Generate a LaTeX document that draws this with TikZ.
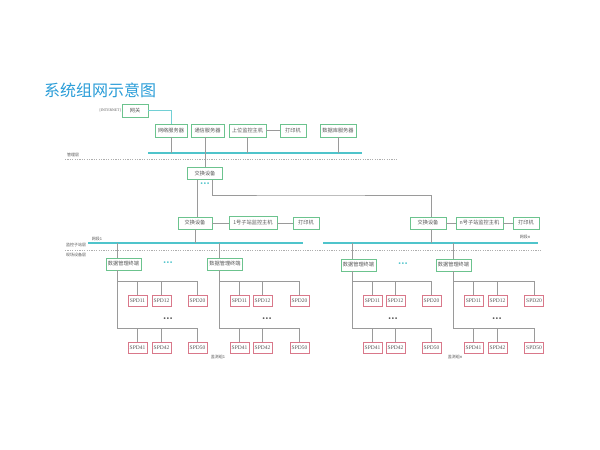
\documentclass[tikz,border=0pt]{standalone}
\usepackage{fontspec}
\newfontfamily\cjk{Noto Sans CJK SC}
\newfontfamily\latinserif{Liberation Serif}
\newfontfamily\dejavu{DejaVu Sans}
\definecolor{boxgreen}{HTML}{6CC38E}
\definecolor{spdred}{HTML}{D9788A}
\definecolor{lgray}{HTML}{9A9A9A}
\definecolor{busteal}{HTML}{4FC4CB}
\definecolor{titleblue}{HTML}{2A9DD8}
\definecolor{txtgray}{HTML}{555555}
\tikzset{
 gbox/.style={draw=boxgreen, line width=0.8pt, fill=white, inner sep=0pt, font=\cjk\fontsize{5.2}{6}\selectfont, text=txtgray},
 sbox/.style={draw=spdred, line width=0.7pt, fill=white, inner sep=0pt, minimum width=19pt, minimum height=11pt, font=\latinserif\fontsize{5.5}{6}\selectfont, text=txtgray},
 conn/.style={draw=lgray, line width=0.6pt},
 bus/.style={draw=busteal, line width=1.1pt},
 layerline/.style={draw=lgray!80, line width=0.5pt, dash pattern=on 1.2pt off 1.2pt},
 small/.style={font=\cjk\fontsize{4}{4.5}\selectfont, text=txtgray, inner sep=0pt},
 tdots/.style={font=\dejavu\bfseries\fontsize{5}{5}\selectfont, text=busteal, inner sep=0pt},
 gdots/.style={font=\dejavu\bfseries\fontsize{5}{5}\selectfont, text=txtgray, inner sep=0pt},
}
\begin{document}
\begin{tikzpicture}[x=1pt,y=-1pt]
\useasboundingbox[fill=white] (0,0) rectangle (600,450);
% title
\node[anchor=west, font=\cjk\fontsize{16}{17}\selectfont, text=titleblue, inner sep=0pt] (title) at (44,90) {系统组网示意图};
% top level
\node[small, font=\latinserif\fontsize{3.8}{4}\selectfont, anchor=east] (inet) at (121,110.5) {[INTERNET]};
\node[gbox, minimum width=26pt, minimum height=13pt] (wg) at (135,110.5) {网关};
\node[gbox, minimum width=32pt, minimum height=13pt] (wlfwq) at (171,130.5) {网络服务器};
\node[gbox, minimum width=33pt, minimum height=13pt] (txfwq) at (207.5,130.5) {通信服务器};
\node[gbox, minimum width=37pt, minimum height=13pt] (swjk) at (247.5,130.5) {上位监控主机};
\node[gbox, minimum width=26pt, minimum height=13pt] (dy1) at (293,130.5) {打印机};
\node[gbox, minimum width=36pt, minimum height=13pt] (sjk) at (338,130.5) {数据库服务器};
\draw[conn, draw=busteal!80] (wg.east) -| (wlfwq.north);
\draw[conn] (swjk.east) -- (dy1.west);
\coordinate (b0l) at (148,153);
\coordinate (b0r) at (362,153);
\draw[bus] (b0l) -- (b0r);
\draw[conn] (wlfwq.south) -- (wlfwq.south |- b0l);
\draw[conn] (swjk.south) -- (swjk.south |- b0l);
\draw[conn] (sjk.south) -- (sjk.south |- b0l);
\coordinate (l0l) at (65,159);
\coordinate (l0r) at (398,159);
\draw[layerline] (l0l) -- (l0r);
\node[small] (glc) at (73,154.5) {管理层};
% exchange
\node[gbox, minimum width=35pt, minimum height=12pt] (jh0) at (205,173.5) {交换设备};
\draw[conn] (jh0.north) -- (jh0.north |- txfwq.south);
\node[tdots] (d0) at (205,184) {•••};
\node[gbox, minimum width=34pt, minimum height=12pt] (jh1) at (195,223) {交换设备};
\node[gbox, minimum width=48pt, minimum height=13pt] (zz1) at (253,223) {1号子站监控主机};
\node[gbox, minimum width=26pt, minimum height=12pt] (dy2) at (306,223) {打印机};
\node[gbox, minimum width=36pt, minimum height=12pt] (jhn) at (428,223) {交换设备};
\node[gbox, minimum width=47pt, minimum height=12pt] (zzn) at (479.5,223) {n号子站监控主机};
\node[gbox, minimum width=26pt, minimum height=12pt] (dy3) at (526,223) {打印机};
\coordinate (turn) at (300,195);
\draw[conn] ([xshift=-8pt]jh0.south) -- ([xshift=-8pt]jh0.south |- jh1.north);
\draw[conn] ([xshift=7pt]jh0.south) |- (turn) -| ([xshift=3pt]jhn.north);
\draw[conn] (jh1.east) -- (zz1.west);
\draw[conn, line width=1pt] (zz1.east) -- (dy2.west);
\draw[conn] (jhn.east) -- (zzn.west);
\draw[conn, line width=1pt] (zzn.east) -- (dy3.west);
% buses level 2
\coordinate (b1l) at (88,243);
\coordinate (b1r) at (303,243);
\coordinate (bnl) at (323,243);
\coordinate (bnr) at (538,243);
\draw[bus] (b1l) -- (b1r);
\draw[bus] (bnl) -- (bnr);
\draw[conn] (jh1.south) -- (jh1.south |- b1l);
\draw[conn] ([xshift=3pt]jhn.south) -- ([xshift=3pt]jhn.south |- bnl);
\node[small] (wd1) at (97,238.5) {网段1};
\node[small] (wdn) at (525,237) {网段n};
\coordinate (l1l) at (65,250);
\coordinate (l1r) at (541,250);
\draw[layerline] (l1l) -- (l1r);
\node[small] (jkz) at (76,244.5) {监控子站层};
\node[small] (xcs) at (76,254.5) {现场设备层};
\node[tdots] (d1) at (168,263.5) {•••};
\node[tdots] (d2) at (403,264.5) {•••};
% groups
\foreach \g/\tx/\ty/\vx/\xa/\xb/\xc/\dx in {1/123.5/264/117.5/137.5/161.5/197.5/168, 2/225/264/219/239.5/262.5/299.5/267, 3/358.5/265/352/372.5/395.5/431.5/393, 4/453.5/265/453/473.5/497.5/534/497}{
  \node[gbox, minimum width=35pt, minimum height=12pt] (dm\g) at (\tx,\ty) {数据管理终端};
  \coordinate (drop\g) at (\vx,243);
  \draw[conn] (drop\g) -- (drop\g |- dm\g.north);
  \coordinate (rt\g) at (\vx,281);
  \coordinate (rb\g) at (\vx,328.5);
  \node[sbox] (sa\g) at (\xa,300.5) {SPD11};
  \node[sbox] (sb\g) at (\xb,300.5) {SPD12};
  \node[sbox] (sc\g) at (\xc,300.5) {SPD20};
  \node[sbox] (sd\g) at (\xa,347.5) {SPD41};
  \node[sbox] (se\g) at (\xb,347.5) {SPD42};
  \node[sbox] (sf\g) at (\xc,347.5) {SPD50};
  \draw[conn] (drop\g |- dm\g.south) -- (rb\g) -| (sf\g.north);
  \draw[conn] (rt\g) -| (sc\g.north);
  \draw[conn] (sa\g.north) -- (sa\g.north |- rt\g);
  \draw[conn] (sb\g.north) -- (sb\g.north |- rt\g);
  \draw[conn] (sd\g.north) -- (sd\g.north |- rb\g);
  \draw[conn] (se\g.north) -- (se\g.north |- rb\g);
  \node[gdots] (gd\g) at (\dx,319) {•••};
}
\node[small] (zl1) at (218,356.5) {监测组1};
\node[small] (zln) at (455,356.5) {监测组n};
\end{tikzpicture}
\end{document}
